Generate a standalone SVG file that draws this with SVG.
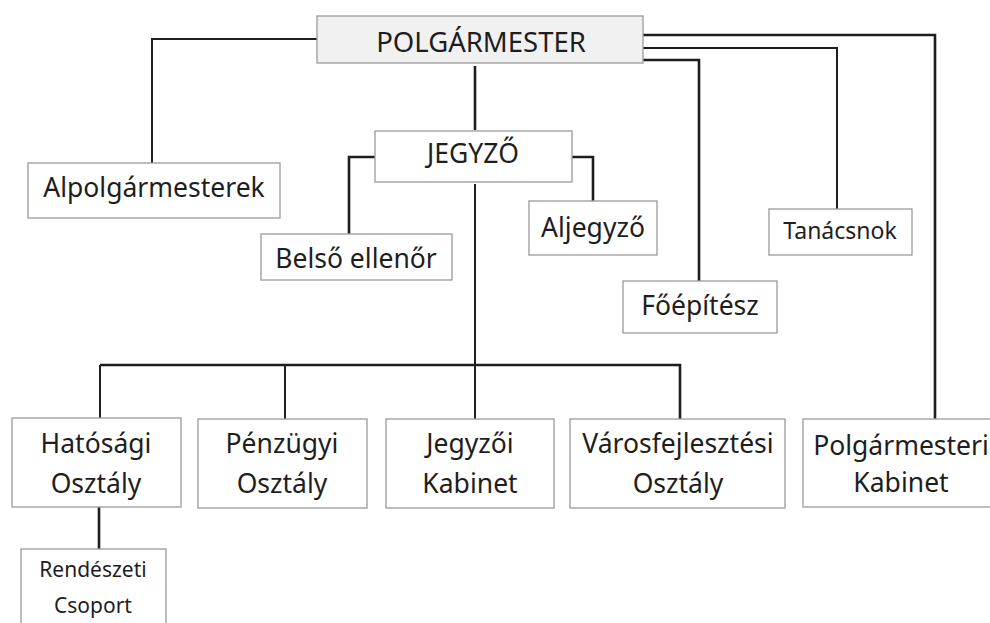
<svg xmlns="http://www.w3.org/2000/svg" width="990" height="623" viewBox="0 0 990 623">
<style>
.box{fill:#ffffff;stroke:#9a9a9a;stroke-width:1.3}
.top{fill:#f1f1f1}
.t{font-family:"Noto Sans","Open Sans","DejaVu Sans",sans-serif;font-size:26.5px;fill:#1e1e1e;text-anchor:middle}
.s{font-size:23px}
.xs{font-size:21px}
.big{font-size:27.5px}
.c{fill:none;stroke:#1e1e1e;stroke-width:2}
.ct{fill:none;stroke:#1e1e1e;stroke-width:2.6}
</style>
<rect width="990" height="623" fill="#ffffff"/>
<g id="connectors">
<path class="c" d="M317,39 H152 V163"/>
<path class="ct" d="M475,66 V130"/>
<path class="c" d="M475,184 V365"/>
<path class="ct" d="M100,365 H680 V419"/>
<path class="c" d="M100,365 V418"/>
<path class="c" d="M285,365 V419"/>
<path class="c" d="M475,365 V419"/>
<path class="ct" d="M99,507 V549"/>
<path class="ct" d="M375,157 H349 V234"/>
<path class="ct" d="M572,157 H593 V201"/>
<path class="ct" d="M643,35 H935 V419"/>
<path class="c" d="M643,48 H837 V209"/>
<path class="ct" d="M643,60 H699 V281"/>
</g>
<g id="polgarmester">
<rect class="box top" x="317" y="16" width="326" height="47"/>
<text class="t big" x="481" y="52">POLGÁRMESTER</text>
</g>
<g id="alpolgarmesterek">
<rect class="box" x="28" y="163" width="252" height="55"/>
<text class="t" x="154" y="197">Alpolgármesterek</text>
</g>
<g id="jegyzo">
<rect class="box" x="375" y="131" width="197" height="51"/>
<text class="t" x="473" y="163">JEGYZŐ</text>
</g>
<g id="belso-ellenor">
<rect class="box" x="261" y="234" width="191" height="46"/>
<text class="t" x="356" y="268">Belső ellenőr</text>
</g>
<g id="aljegyzo">
<rect class="box" x="529" y="201" width="128" height="54"/>
<text class="t" x="593" y="237">Aljegyző</text>
</g>
<g id="foepitesz">
<rect class="box" x="623" y="281" width="154" height="52"/>
<text class="t" x="700" y="315">Főépítész</text>
</g>
<g id="tanacsnok">
<rect class="box" x="769" y="209" width="143" height="46"/>
<text class="t s" x="840" y="239">Tanácsnok</text>
</g>
<g id="hatosagi-osztaly">
<rect class="box" x="12" y="418" width="169" height="89"/>
<text class="t" x="96" y="453">Hatósági</text>
<text class="t" x="96" y="493">Osztály</text>
</g>
<g id="penzugyi-osztaly">
<rect class="box" x="198" y="419" width="169" height="89"/>
<text class="t" x="282" y="453">Pénzügyi</text>
<text class="t" x="282" y="493">Osztály</text>
</g>
<g id="jegyzoi-kabinet">
<rect class="box" x="386" y="419" width="168" height="89"/>
<text class="t" x="470" y="453">Jegyzői</text>
<text class="t" x="470" y="493">Kabinet</text>
</g>
<g id="varosfejlesztesi-osztaly">
<rect class="box" x="570" y="419" width="215" height="89"/>
<text class="t" x="678" y="453">Városfejlesztési</text>
<text class="t" x="678" y="493">Osztály</text>
</g>
<g id="polgarmesteri-kabinet">
<rect class="box" x="803" y="419" width="197" height="88"/>
<text class="t" x="901" y="455">Polgármesteri</text>
<text class="t" x="901" y="492">Kabinet</text>
</g>
<g id="rendeszeti-csoport">
<rect class="box" x="21" y="549" width="145" height="90"/>
<text class="t xs" x="93" y="577">Rendészeti</text>
<text class="t xs" x="93" y="613">Csoport</text>
</g>
</svg>
